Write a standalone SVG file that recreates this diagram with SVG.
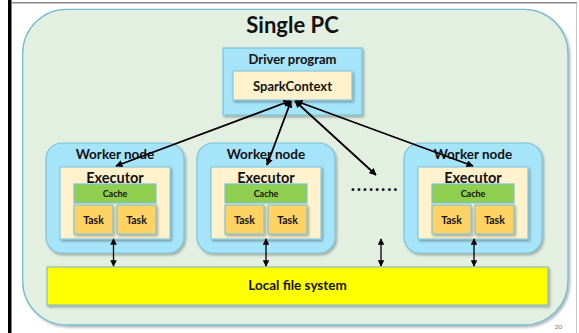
<svg xmlns="http://www.w3.org/2000/svg" width="579" height="333" viewBox="0 0 579 333">
<style>
text{font-family:Lato,"Open Sans","Liberation Sans",sans-serif;font-weight:bold;fill:#111;text-anchor:middle}
.outer{fill:#e2efe1;stroke:#72bdd4;stroke-width:1.3}
.worker{fill:#a6e4f9;stroke:#7cc3da;stroke-width:1.2}
.driver{fill:#a6e4f9;stroke:#7cc3da;stroke-width:1.2}
.exec{fill:#fff2cc;stroke:#8cc7da;stroke-width:1.2}
.cache{fill:#8fce4e;stroke:#7cc3da;stroke-width:1.2}
.task{fill:#fed363;stroke:#7cc3da;stroke-width:1.2}
.fs{fill:#ffff00;stroke:#8cbfb4;stroke-width:1.2}
.conn line{stroke:#000;stroke-width:1.8;marker-start:url(#ah);marker-end:url(#ah)}
.conn line.short{stroke-width:1.3;marker-start:url(#ahs);marker-end:url(#ahs)}
</style>
<defs>
<filter id="sh" x="-10%" y="-10%" width="125%" height="125%">
<feDropShadow dx="1.5" dy="1.8" stdDeviation="1.2" flood-color="#000" flood-opacity="0.3"/>
</filter>
<marker id="ah" viewBox="0 0 10 10" refX="9" refY="5" markerWidth="4" markerHeight="4" orient="auto-start-reverse" markerUnits="strokeWidth">
<path d="M0,0 L10,5 L0,10 z" fill="#000"/>
</marker>
<marker id="ahs" viewBox="0 0 10 10" refX="9" refY="5" markerWidth="5" markerHeight="5" orient="auto-start-reverse" markerUnits="strokeWidth">
<path d="M0,0 L10,5 L0,10 z" fill="#000"/>
</marker>
</defs>
<rect x="0" y="0" width="579" height="333" fill="#fff"/>
<rect x="8" y="0" width="3.5" height="333" fill="#000"/>
<line x1="11" y1="2.7" x2="577" y2="2.7" stroke="#8a8a8a" stroke-width="1.5"/>
<line x1="576.5" y1="3" x2="576.5" y2="333" stroke="#c8c8c8" stroke-width="1"/>

<g id="single-pc">
<rect class="outer" x="22.7" y="9.3" width="545.3" height="315.7" rx="44" ry="44" filter="url(#sh)"/>
<text x="292.5" y="33" font-size="22">Single PC</text>
</g>

<g id="driver">
<rect class="driver" x="223" y="48" width="139" height="67" filter="url(#sh)"/>
<text x="292.5" y="64" font-size="13">Driver program</text>
</g>
<g id="sparkcontext">
<rect class="exec" x="233" y="71" width="119" height="29" filter="url(#sh)"/>
<text x="292.5" y="91" font-size="13">SparkContext</text>
</g>

<g id="worker1">
<rect class="worker" x="46" y="143" width="138" height="110" rx="16" filter="url(#sh)"/>
<text x="115" y="159" font-size="13.5">Worker node</text>
<rect class="exec" x="60" y="167" width="110" height="72" filter="url(#sh)"/>
<text x="115" y="183" font-size="14.5">Executor</text>
<rect class="cache" x="74" y="184" width="82" height="19"/>
<text x="115" y="196.5" font-size="9">Cache</text>
<rect class="task" x="74" y="205" width="39" height="29" filter="url(#sh)"/>
<text x="93.5" y="223.5" font-size="10.5">Task</text>
<rect class="task" x="117" y="205" width="39" height="29" filter="url(#sh)"/>
<text x="136.5" y="223.5" font-size="10.5">Task</text>
</g>

<g id="worker2">
<rect class="worker" x="197" y="143" width="138" height="110" rx="16" filter="url(#sh)"/>
<text x="266" y="159" font-size="13.5">Worker node</text>
<rect class="exec" x="211" y="167" width="110" height="72" filter="url(#sh)"/>
<text x="266" y="183" font-size="14.5">Executor</text>
<rect class="cache" x="225" y="184" width="82" height="19"/>
<text x="266" y="196.5" font-size="9">Cache</text>
<rect class="task" x="225" y="205" width="39" height="29" filter="url(#sh)"/>
<text x="244.5" y="223.5" font-size="10.5">Task</text>
<rect class="task" x="268" y="205" width="39" height="29" filter="url(#sh)"/>
<text x="287.5" y="223.5" font-size="10.5">Task</text>
</g>

<g id="ellipsis">
<text x="375" y="191" font-size="18" letter-spacing="1.8">........</text>
</g>

<g id="worker3">
<rect class="worker" x="404" y="143" width="138" height="110" rx="16" filter="url(#sh)"/>
<text x="473" y="159" font-size="13.5">Worker node</text>
<rect class="exec" x="418" y="167" width="110" height="72" filter="url(#sh)"/>
<text x="473" y="183" font-size="14.5">Executor</text>
<rect class="cache" x="432" y="184" width="82" height="19"/>
<text x="473" y="196.5" font-size="9">Cache</text>
<rect class="task" x="432" y="205" width="39" height="29" filter="url(#sh)"/>
<text x="451.5" y="223.5" font-size="10.5">Task</text>
<rect class="task" x="475" y="205" width="39" height="29" filter="url(#sh)"/>
<text x="494.5" y="223.5" font-size="10.5">Task</text>
</g>

<g id="local-fs">
<rect class="fs" x="47" y="267" width="501" height="38" filter="url(#sh)"/>
<text x="297.5" y="290" font-size="13.5">Local file system</text>
</g>

<g id="connectors" class="conn">
<line x1="116" y1="166" x2="290" y2="101"/>
<line x1="267" y1="165" x2="291" y2="101"/>
<line x1="376" y1="175" x2="295" y2="101"/>
<line x1="473" y1="166" x2="296" y2="101"/>
<line class="short" x1="113.5" y1="239" x2="113.5" y2="266"/>
<line class="short" x1="266" y1="239" x2="266" y2="266"/>
<line class="short" x1="381" y1="239" x2="381" y2="266"/>
<line class="short" x1="474" y1="239" x2="474" y2="266"/>
</g>

<text x="558.5" y="329" font-size="6.5" style="font-weight:normal;fill:#777">20</text>
</svg>
